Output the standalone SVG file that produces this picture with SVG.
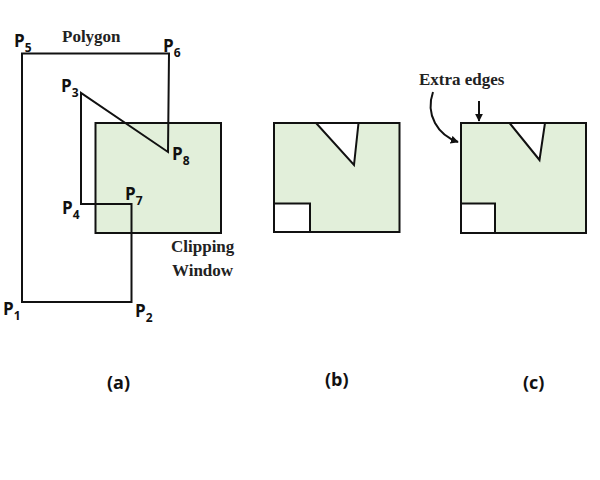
<svg xmlns="http://www.w3.org/2000/svg" width="600" height="480" viewBox="0 0 600 480">
<style>
.win{fill:#e2efda;stroke:#111;stroke-width:2}
.hole{fill:#fff;stroke:#111;stroke-width:2}
.poly{fill:none;stroke:#111;stroke-width:2;stroke-linejoin:miter}
.p{font-family:"Open Sans","Liberation Sans",sans-serif;font-weight:bold;font-size:17px;fill:#111}
.s{font-size:12px}
.ser{font-family:"Liberation Serif",serif;font-weight:bold;font-size:17px;fill:#222}
.cap{font-family:"Open Sans","Liberation Sans",sans-serif;font-weight:bold;font-size:18px;fill:#111}
</style>
<defs>
<marker id="ah" viewBox="0 0 10 10" refX="9" refY="5" markerWidth="8" markerHeight="8" markerUnits="userSpaceOnUse" orient="auto">
<path d="M0,0 L10,5 L0,10 z" fill="#111"/>
</marker>
</defs>
<g id="window-a"><rect class="win" x="95.5" y="123" width="125.5" height="110"/></g>
<g id="polygon-a"><path class="poly" d="M22,302 L131.5,302 L131.5,204 L81,204 L81,93 L168,152 L169,53.5 L22,53.5 Z"/></g>
<g id="labels-a">
<text class="p" x="14" y="47">P<tspan class="s" dy="5">5</tspan></text>
<text class="ser" x="62" y="42">Polygon</text>
<text class="p" x="163" y="52">P<tspan class="s" dy="5">6</tspan></text>
<text class="p" x="61" y="92">P<tspan class="s" dy="5">3</tspan></text>
<text class="p" x="172" y="160">P<tspan class="s" dy="5">8</tspan></text>
<text class="p" x="62" y="214">P<tspan class="s" dy="5">4</tspan></text>
<text class="p" x="125" y="200">P<tspan class="s" dy="5">7</tspan></text>
<text class="p" x="3" y="315">P<tspan class="s" dy="5">1</tspan></text>
<text class="p" x="135" y="317">P<tspan class="s" dy="5">2</tspan></text>
<text class="ser" x="171" y="252">Clipping</text>
<text class="ser" x="172" y="276">Window</text>
<text class="cap" x="107" y="389">(a)</text>
</g>
<g id="window-b">
<rect class="win" x="274" y="123" width="125.5" height="109"/>
<path class="hole" d="M316,123 L358.5,123 L354,165 Z"/>
<rect class="hole" x="274" y="203.5" width="36" height="28.5"/>
<text class="cap" x="325" y="386">(b)</text>
</g>
<g id="window-c">
<rect class="win" x="461" y="123" width="125" height="110"/>
<path class="hole" d="M509.5,123 L545,123 L539.5,160 Z"/>
<rect class="hole" x="461" y="203.5" width="34" height="29.5"/>
<text class="ser" x="419" y="85">Extra edges</text>
<text class="cap" x="523" y="389">(c)</text>
</g>
<g id="connectors">
<path d="M479,101 L479,121" fill="none" stroke="#111" stroke-width="2" marker-end="url(#ah)"/>
<path d="M433,92 C425,115 438,135 458,142" fill="none" stroke="#111" stroke-width="2" marker-end="url(#ah)"/>
</g>
</svg>
